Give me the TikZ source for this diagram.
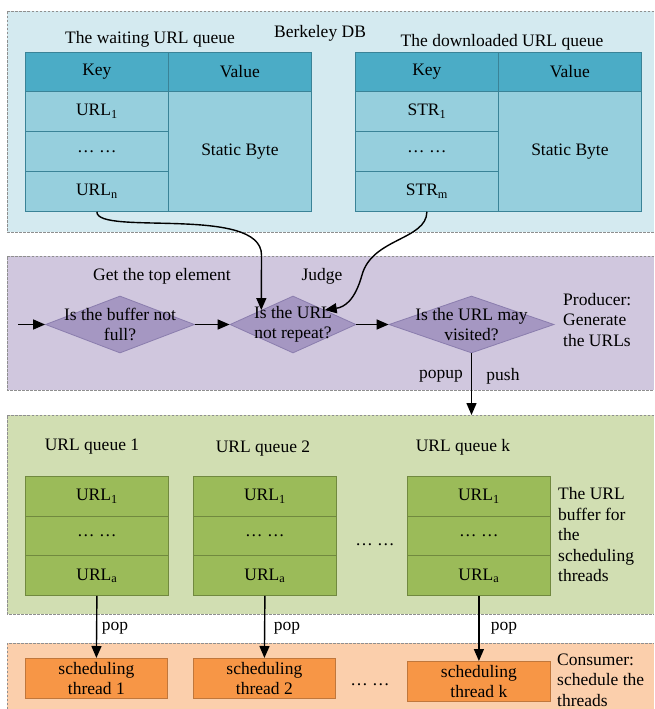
\documentclass[tikz,border=0pt]{standalone}
\usepackage{fontspec}
\setmainfont{Liberation Serif}
\usetikzlibrary{shapes.geometric,arrows.meta}
\definecolor{dbpanel}{HTML}{D4EAF0}
\definecolor{hdrc}{HTML}{4BACC6}
\definecolor{cellc}{HTML}{96CFDD}
\definecolor{tealline}{HTML}{3A8397}
\definecolor{purplepanel}{HTML}{D0C7DE}
\definecolor{diamfill}{HTML}{A597C2}
\definecolor{diamline}{HTML}{8A7DAD}
\definecolor{greenpanel}{HTML}{D1DEB2}
\definecolor{qfill}{HTML}{9BBB59}
\definecolor{qline}{HTML}{71893F}
\definecolor{orangepanel}{HTML}{FBCFAC}
\definecolor{tfill}{HTML}{F79646}
\definecolor{tline}{HTML}{C0773C}
\definecolor{panelgray}{HTML}{8F8F8F}
\begin{document}
\begin{tikzpicture}[x=1pt,y=-1pt,
  font=\fontsize{17.5}{20.5}\selectfont,
  panelline/.style={draw=panelgray, line width=0.8pt, dash pattern=on 2.5pt off 1.5pt},
  cellbox/.style={draw=tealline, line width=0.8pt, fill=cellc, minimum width=143pt, minimum height=40pt, inner sep=0pt, anchor=north west},
  hdrbox/.style={cellbox, fill=hdrc, minimum height=39pt},
  qbox/.style={draw=qline, line width=0.8pt, fill=qfill, minimum width=143pt, minimum height=39.7pt, inner sep=0pt, anchor=north west},
  thread/.style={draw=tline, line width=0.8pt, fill=tfill, minimum width=142pt, minimum height=40pt, inner sep=0pt, align=center, anchor=north west},
  decision/.style={diamond, draw=diamline, fill=diamfill, line width=0.8pt, inner sep=0pt, minimum height=57pt},
  lbl/.style={inner sep=0pt},
  arr/.style={-{Triangle[length=12pt,width=10pt]}, line width=1.4pt},
]
\useasboundingbox (0,0) rectangle (654,709);

% panels
\fill[dbpanel] (7,11) rectangle (654,232);
\draw[panelline] (654,11) -- (7,11) -- (7,232) -- (654,232);
\fill[purplepanel] (7,256) rectangle (654,390);
\draw[panelline] (654,256) -- (7,256) -- (7,390) -- (654,390);
\fill[greenpanel] (7,415) rectangle (654,614);
\draw[panelline] (654,415) -- (7,415) -- (7,614) -- (654,614);
\fill[orangepanel] (7,643) rectangle (654,709);
\draw[panelline] (7,709) -- (7,643) -- (654,643);

% Berkeley DB
\node[lbl] (bdb) at (320,33) {Berkeley DB};
\node[lbl] (wq) at (150,39) {The waiting URL queue};
\node[lbl] (dq) at (502,42) {The downloaded URL queue};

% left table
\node[hdrbox] (lk) at (25,52) {Key};
\node[hdrbox] (lv) at (168,52) {Value};
\node[cellbox] (l1) at (25,91) {URL\textsubscript{1}};
\node[cellbox] (l2) at (25,131) {… …};
\node[cellbox] (l3) at (25,171) {URL\textsubscript{n}};
\node[cellbox, minimum height=120pt] (lval) at (168,91) {Static Byte};

% right table
\node[hdrbox] (rk) at (355,52) {Key};
\node[hdrbox] (rv) at (498,52) {Value};
\node[cellbox] (r1) at (355,91) {STR\textsubscript{1}};
\node[cellbox] (r2) at (355,131) {… …};
\node[cellbox] (r3) at (355,171) {STR\textsubscript{m}};
\node[cellbox, minimum height=120pt] (rval) at (498,91) {Static Byte};

% producer
\node[lbl] (gte) at (162,276) {Get the top element};
\node[lbl] (judge) at (322,276) {Judge};
\node[decision, minimum width=149pt] (d1) at (120,324.5) {};
\node[decision, minimum width=126pt] (d2) at (293,324.5) {};
\node[decision, minimum width=165pt] (d3) at (471.5,324.5) {};
\node[lbl, align=center] (d1t) at (d1.center) {Is the buffer not\\full?};
\node[lbl, align=center] (d2t) at (d2.center) {Is the URL\\not repeat?};
\node[lbl, align=center] (d3t) at (d3.center) {Is the URL may\\visited?};
\node[lbl, align=left, anchor=west] (prod) at (563,320) {Producer:\\Generate\\the URLs};
\node[lbl] (popup) at (441,376) {popup};
\node[lbl] (push) at (503,376) {push};
\coordinate (in) at (18,324.5);
\coordinate (gtop) at (471.5,415);

\draw[arr] (in) -- (d1.west);
\draw[arr] (d1.east) -- (d2.west);
\draw[arr] (d2.east) -- (d3.west);
\draw[arr] (d3.south) -- (gtop);
\draw[arr] (l3.south) .. controls (96.5,236) and (261.5,205) .. (261.5,255) -- (d2.north west);
\draw[arr] (r3.south) .. controls (426.5,240) and (372,238) .. (362,275) .. controls (355,300) and (345,307) .. (d2.north east);

% URL buffer
\node[lbl] (qn1) at (92,447) {URL queue 1};
\node[lbl] (qn2) at (263,449) {URL queue 2};
\node[lbl] (qnk) at (463,447) {URL queue k};
\node[qbox] (a1) at (25,476) {URL\textsubscript{1}};
\node[qbox] (a2) at (25,515.7) {… …};
\node[qbox] (a3) at (25,555.4) {URL\textsubscript{a}};
\node[qbox] (b1) at (193,476) {URL\textsubscript{1}};
\node[qbox] (b2) at (193,515.7) {… …};
\node[qbox] (b3) at (193,555.4) {URL\textsubscript{a}};
\node[qbox] (c1) at (407,476) {URL\textsubscript{1}};
\node[qbox] (c2) at (407,515.7) {… …};
\node[qbox] (c3) at (407,555.4) {URL\textsubscript{a}};
\node[lbl] (qdots) at (375,545) {… …};
\node[lbl, align=left, anchor=west] (buf) at (558,535) {The URL\\buffer for\\the\\scheduling\\threads};

% consumer
\node[thread] (t1) at (25,658) {scheduling\\[-1pt]thread 1};
\node[thread] (t2) at (193,658) {scheduling\\[-1pt]thread 2};
\node[thread, minimum width=143pt] (tk) at (407,661) {scheduling\\[-1pt]thread k};
\node[lbl] (tdots) at (370,685) {… …};
\node[lbl, align=left, anchor=west] (cons) at (557,680) {Consumer:\\schedule the\\threads};
\node[lbl] (pop1) at (115,628) {pop};
\node[lbl] (pop2) at (287,628) {pop};
\node[lbl] (popk) at (504,628) {pop};

\draw[arr] (a3.south) -- (t1.north);
\draw[arr] (b3.south) -- (t2.north);
\draw[arr] (c3.south) -- (tk.north);
\end{tikzpicture}
\end{document}
